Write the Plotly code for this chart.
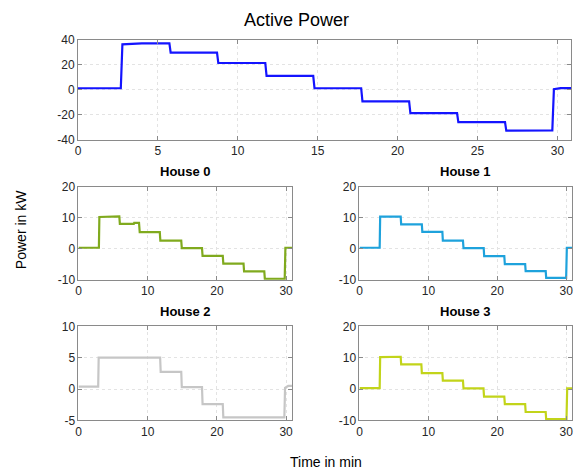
import plotly.graph_objects as go

# ---- data ----
t_total = [0, 2.68, 2.78, 4.0, 5.72, 5.8, 8.7, 8.78, 11.72, 11.8, 14.72, 14.8, 17.72, 17.8,
           20.72, 20.8, 23.72, 23.8, 26.72, 26.8, 29.68, 29.78, 30.2, 30.85]
p_total = [1.2, 1.2, 36.2, 37.0, 37.0, 29.5, 29.5, 21.3, 21.3, 11.0, 11.0, 1.2, 1.2, -9.2,
           -9.2, -18.6, -18.6, -25.8, -25.8, -32.5, -32.3, 0.5, 1.3, 1.3]

t_h0 = [0, 2.95, 3.02, 5.9, 5.98, 8.0, 8.05, 8.75, 8.85, 11.75, 11.83, 14.85, 14.93, 17.85, 17.93,
        20.85, 20.93, 23.85, 23.93, 26.85, 26.93, 29.8, 29.9, 30.85]
p_h0 = [0.3, 0.3, 10.2, 10.4, 8.0, 8.0, 8.3, 8.3, 5.3, 5.3, 2.6, 2.6, 0.2, 0.2, -2.3,
        -2.3, -4.8, -4.8, -7.3, -7.3, -9.7, -9.7, 0.3, 0.3]

t_h1 = [0, 2.93, 3.0, 5.98, 6.05, 9.05, 9.12, 12.03, 12.1, 15.02, 15.1, 18.03, 18.1,
        21.02, 21.1, 24.05, 24.12, 27.03, 27.1, 30.0, 30.1, 30.85]
p_h1 = [0.3, 0.3, 10.3, 10.3, 7.8, 7.8, 5.4, 5.4, 2.6, 2.6, 0.2, 0.2, -2.4,
        -2.4, -5.0, -5.0, -7.2, -7.2, -9.4, -9.4, 0.3, 0.3]

t_h2 = [0, 2.85, 2.92, 11.8, 11.88, 14.85, 14.93, 17.85, 17.93, 20.85, 20.93, 29.75, 29.85, 30.3, 30.85]
p_h2 = [0.4, 0.4, 5.0, 5.0, 2.75, 2.75, 0.3, 0.3, -2.4, -2.4, -4.5, -4.5, 0.2, 0.5, 0.5]

t_h3 = [0, 2.93, 3.0, 5.98, 6.05, 8.98, 9.05, 12.03, 12.1, 15.02, 15.1, 18.0, 18.08,
        21.02, 21.1, 24.05, 24.12, 27.03, 27.1, 30.05, 30.15, 30.85]
p_h3 = [0.3, 0.3, 10.2, 10.3, 7.9, 7.9, 5.1, 5.1, 2.7, 2.7, 0.2, 0.2, -2.4,
        -2.4, -4.8, -4.8, -7.3, -7.3, -9.6, -9.6, 0.2, 0.2]

titles = ["Active Power", "House 0", "House 1", "House 2", "House 3"]
colors = ["#1414ff", "#80aa1e", "#1ea2dc", "#c6c6c6", "#c2d41a"]
yranges = [[-40, 40], [-10, 20], [-10, 20], [-5, 10], [-10, 20]]
ytickvals = [[-40, -20, 0, 20, 40], [-10, 0, 10, 20], [-10, 0, 10, 20], [-5, 0, 5, 10], [-10, 0, 10, 20]]
xtickvals = [[0, 5, 10, 15, 20, 25, 30], [0, 10, 20, 30], [0, 10, 20, 30], [0, 10, 20, 30], [0, 10, 20, 30]]
xrange_ = [0, 30.85]

series = [(t_total, p_total), (t_h0, p_h0), (t_h1, p_h1), (t_h2, p_h2), (t_h3, p_h3)]

W, H = 574, 476
# axes boxes in pixels: (left, right, top, bottom)
boxes = [(75.5, 572, 33.5, 137), (76, 291, 185, 281), (359, 573, 185, 281),
         (76, 291, 329, 426), (359, 573, 329, 426)]
title_x = [296, 183.5, 466, 183.5, 466]
title_gap = [8, 6, 6, 6, 6]

fig = go.Figure()
font = "Liberation Sans, Arial, sans-serif"
axis_color = "#8a8a8a"
for i, ((t, p), c) in enumerate(zip(series, colors)):
    n = "" if i == 0 else str(i + 1)
    fig.add_trace(go.Scatter(x=t, y=p, mode="lines", line=dict(color=c, width=2.2),
                             xaxis="x" + n, yaxis="y" + n, showlegend=False, hoverinfo="skip"))
    l, r, tp, b = boxes[i]
    common = dict(showline=True, linecolor=axis_color, linewidth=1, mirror="allticks",
                  ticks="inside", ticklen=4, tickcolor=axis_color, tickwidth=1,
                  showgrid=True, gridcolor="#e3e3e3", griddash="dot", gridwidth=1,
                  zeroline=False, tickfont=dict(family=font, size=12, color="#262626"))
    fig.update_layout(**{
        "xaxis" + n: dict(domain=[l / W, r / W], range=xrange_, tickvals=xtickvals[i],
                          ticktext=[str(v) for v in xtickvals[i]],
                          anchor="y" + n, **common),
        "yaxis" + n: dict(domain=[1 - b / H, 1 - tp / H], range=yranges[i], tickvals=ytickvals[i],
                          ticktext=[str(v) for v in ytickvals[i]],
                          anchor="x" + n, **common),
    })
    if i == 0:
        tf = dict(family=font, size=18, color="#000000")
    else:
        tf = dict(family=font, size=13, color="#000000", weight="bold")
    fig.add_annotation(text=titles[i], x=title_x[i] / W, y=1 - (tp - title_gap[i]) / H,
                       xref="paper", yref="paper",
                       xanchor="center", yanchor="bottom", showarrow=False, font=tf)

fig.add_annotation(text="Power in kW", x=18 / W, y=1 - 229 / H, xref="paper", yref="paper",
                   xanchor="center", yanchor="middle", textangle=-90, showarrow=False,
                   font=dict(family=font, size=14, color="#000000"))
fig.add_annotation(text="Time in min", x=325 / W, y=1 - 469 / H, xref="paper", yref="paper",
                   xanchor="center", yanchor="middle", showarrow=False,
                   font=dict(family=font, size=14, color="#000000"))

fig.update_layout(width=W, height=H, margin=dict(l=0, r=0, t=0, b=0),
                  paper_bgcolor="white", plot_bgcolor="white")
fig.write_html("out.html")
